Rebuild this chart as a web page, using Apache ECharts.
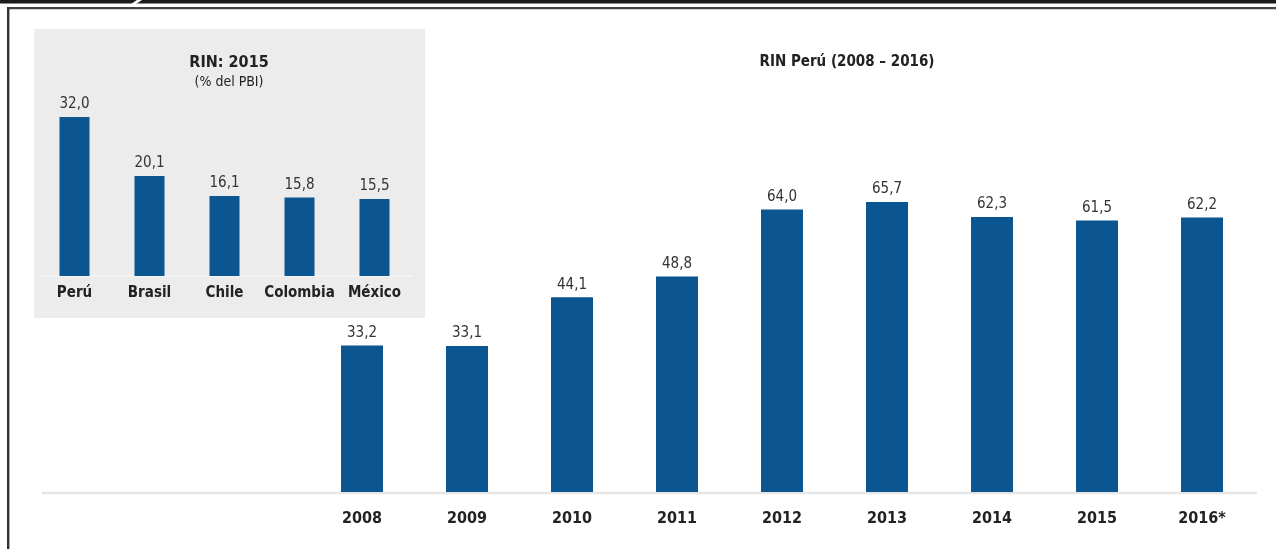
<!DOCTYPE html>
<html>
<head>
<meta charset="utf-8">
<script src="https://cdn.jsdelivr.net/npm/echarts@6/dist/echarts.min.js"></script>
<style>
html,body{margin:0;padding:0;background:#fff;}
#c{width:1276px;height:549px;}
</style>
</head>
<body>
<div id="c"></div>
<script>
// Main chart: RIN Perú (2008 – 2016)
var years = ['2008','2009','2010','2011','2012','2013','2014','2015','2016*'];
var rinPeru = [33.2, 33.1, 44.1, 48.8, 64.0, 65.7, 62.3, 61.5, 62.2];
// Inset: RIN 2015 (% del PBI)
var countries = ['Perú','Brasil','Chile','Colombia','México'];
var rin2015 = [32.0, 20.1, 16.1, 15.8, 15.5];

var FONT = '"DejaVu Sans Condensed","Liberation Sans Narrow",sans-serif';
var BAR = '#0b5591';
var TXT = '#222';

function fmt(p){ return p.value.toFixed(1).replace('.', ','); }

var chart = echarts.init(document.getElementById('c'), null, {renderer:'canvas'});
chart.setOption({
  animation:false,
  backgroundColor:'#fff',
  graphic:[
    {type:'rect', z:-20, shape:{x:0,y:0,width:1276,height:3.5}, style:{fill:'#1c1c1c'}},
    {type:'polygon', z:-19, shape:{points:[[131,4],[137,0],[142,0],[136,4]]}, style:{fill:'#fff'}},
    {type:'rect', z:-20, shape:{x:7,y:7,width:1269,height:2.3}, style:{fill:'#444'}},
    {type:'rect', z:-20, shape:{x:7,y:7,width:2.4,height:542}, style:{fill:'#333'}},
    {type:'rect', z:-10, shape:{x:34,y:29,width:391,height:289}, style:{fill:'#ececec'}},
    {type:'line', z:-5, shape:{x1:42,y1:493,x2:1257,y2:493}, style:{stroke:'#e6e6e6', lineWidth:2.5}},
    {type:'line', z:-5, shape:{x1:42,y1:276,x2:413,y2:276}, style:{stroke:'#fafafa', lineWidth:1.2}},
    {type:'text', z:5, style:{text:'RIN Perú (2008 – 2016)', x:847, y:62, align:'center', verticalAlign:'middle', textAlign:'center', textVerticalAlign:'middle', fill:TXT, font:'bold 15px ' + FONT}},
    {type:'text', z:5, style:{text:'RIN: 2015', x:229, y:63, align:'center', verticalAlign:'middle', textAlign:'center', textVerticalAlign:'middle', fill:TXT, font:'bold 16px ' + FONT}},
    {type:'text', z:5, style:{text:'(% del PBI)', x:229, y:82, align:'center', verticalAlign:'middle', textAlign:'center', textVerticalAlign:'middle', fill:TXT, font:'14px ' + FONT}}
  ],
  grid:[
    {left:309.5, right:21.5, top:183, bottom:57},
    {left:37, right:864, top:102, bottom:273}
  ],
  xAxis:[
    {type:'category', gridIndex:0, data:years, axisLine:{show:false}, axisTick:{show:false},
     axisLabel:{interval:0, margin:19, color:TXT, fontFamily:FONT, fontWeight:'bold', fontSize:16}},
    {type:'category', gridIndex:1, data:countries, axisLine:{show:false}, axisTick:{show:false},
     axisLabel:{interval:0, margin:10, color:TXT, fontFamily:FONT, fontWeight:'bold', fontSize:15}}
  ],
  yAxis:[
    {type:'value', gridIndex:0, min:0, max:70, show:false, splitLine:{show:false}},
    {type:'value', gridIndex:1, min:0, max:35, show:false, splitLine:{show:false}}
  ],
  series:[
    {type:'bar', xAxisIndex:0, yAxisIndex:0, data:rinPeru, barWidth:42, itemStyle:{color:BAR},
     label:{show:true, position:'top', distance:5, formatter:fmt, color:'#333', fontFamily:FONT, fontSize:15}},
    {type:'bar', xAxisIndex:1, yAxisIndex:1, data:rin2015, barWidth:30, itemStyle:{color:BAR},
     label:{show:true, position:'top', distance:5, formatter:fmt, color:'#333', fontFamily:FONT, fontSize:15}}
  ]
});
</script>
</body>
</html>
